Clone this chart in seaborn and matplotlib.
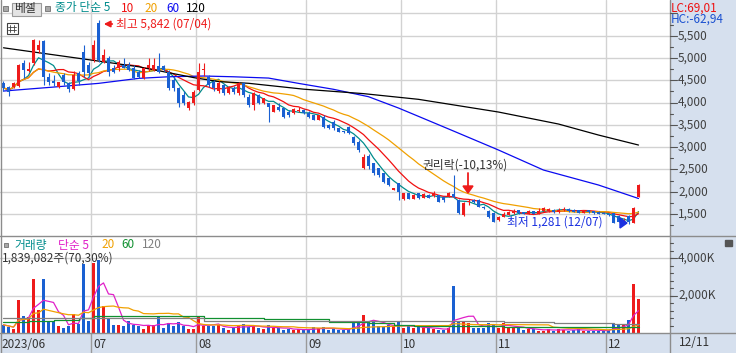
import numpy as np
import pandas as pd
import matplotlib
matplotlib.use("Agg")
import matplotlib.pyplot as plt
import seaborn as sns
from matplotlib.patches import Rectangle, Polygon

sns.set_style("white")
plt.rcParams['font.family'] = ['Noto Sans CJK KR', 'DejaVu Sans']

# daily candles 2023-06-07 .. 2023-12-11
opens = [4440, 4350, 4350, 4380, 4880, 4700, 4885, 5180, 5380, 4570,
         4480, 4350, 4620, 4430, 4300, 4660, 5140, 4840, 4950, 5780,
         4920, 5010, 4770, 4770, 4840, 4840, 4770, 4690, 4550, 4780,
         4740, 4810, 4810, 4690, 4500, 4320, 4170, 3870, 3985, 4280,
         4730, 4580, 4450, 4250, 4400, 4210, 4320, 4210, 4430, 4130,
         3940, 4170, 3985, 3985, 3790, 3910, 3870, 3790, 3765, 3800,
         3830, 3760, 3720, 3610, 3685, 3495, 3570, 3420, 3360, 3460,
         3235, 3125, 2525, 2800, 2635, 2525, 2410, 2300, 2040, 2190,
         1830, 1965, 1840, 1960, 1860, 1930, 1900, 1925, 1890, 1900,
         1950, 1815, 1480, 1760, 1820, 1815, 1660, 1575, 1530, 1365,
         1440, 1480, 1520, 1580, 1540, 1500, 1560, 1510, 1560, 1570,
         1600, 1540, 1580, 1620, 1600, 1580, 1530, 1580, 1560, 1540,
         1530, 1510, 1515, 1460, 1300, 1450, 1300, 1890]
closes = [4330, 4240, 4445, 4840, 4730, 4760, 5400, 5290, 4570, 4460,
          4430, 4460, 4460, 4300, 4620, 4480, 4690, 4660, 5290, 4950,
          5060, 4690, 4690, 4910, 4780, 4740, 4550, 4580, 4770, 4840,
          4840, 4690, 4740, 4320, 4330, 3985, 3985, 4010, 4245, 4690,
          4760, 4400, 4320, 4440, 4210, 4355, 4245, 4430, 4170, 3940,
          4205, 3985, 4095, 3910, 3940, 3830, 3680, 3720, 3850, 3830,
          3760, 3685, 3610, 3720, 3460, 3420, 3420, 3345, 3340, 3310,
          3085, 2935, 2785, 2575, 2410, 2375, 2225, 2150, 2075, 2000,
          1965, 1840, 1930, 1850, 1950, 1860, 1975, 1780, 1820, 1970,
          1880, 1515, 1740, 1790, 1760, 1665, 1640, 1440, 1330, 1440,
          1490, 1540, 1560, 1520, 1500, 1560, 1510, 1570, 1630, 1610,
          1540, 1600, 1620, 1560, 1550, 1530, 1580, 1540, 1520, 1510,
          1500, 1470, 1300, 1330, 1340, 1310, 1640, 2150]
highs = [4480, 4380, 4470, 4860, 4950, 4900, 5420, 5400, 5400, 4660,
         4620, 4470, 4660, 4450, 4700, 4700, 5290, 4900, 5400, 5842,
         5190, 5040, 4840, 4950, 4990, 4900, 4840, 4720, 4800, 4990,
         4990, 5110, 4840, 4730, 4580, 4350, 4250, 4030, 4280, 4880,
         4880, 4620, 4500, 4480, 4420, 4380, 4360, 4460, 4460, 4200,
         4240, 4200, 4100, 4000, 3950, 3980, 3880, 3830, 3880, 3900,
         3850, 3800, 3730, 3730, 3720, 3510, 3600, 3430, 3370, 3480,
         3260, 3150, 2845, 2850, 2650, 2540, 2430, 2310, 2090, 2200,
         1980, 1975, 1950, 1980, 1960, 1940, 2010, 1930, 1900, 1990,
         2370, 1830, 1760, 1830, 1840, 1830, 1680, 1580, 1540, 1450,
         1540, 1560, 1620, 1600, 1550, 1580, 1570, 1640, 1660, 1640,
         1620, 1630, 1650, 1630, 1610, 1590, 1600, 1590, 1570, 1560,
         1540, 1530, 1520, 1470, 1410, 1470, 1660, 2180]
lows = [4260, 4150, 4330, 4350, 4550, 4680, 4850, 5120, 4390, 4390,
        4380, 4330, 4400, 4235, 4280, 4400, 4580, 4580, 4920, 4900,
        4880, 4600, 4660, 4700, 4770, 4700, 4520, 4540, 4530, 4700,
        4700, 4660, 4700, 4280, 4250, 3905, 3950, 3830, 3950, 4250,
        4600, 4350, 4250, 4220, 4180, 4190, 4200, 4180, 4130, 3900,
        3830, 3960, 3970, 3570, 3780, 3800, 3660, 3680, 3750, 3790,
        3740, 3650, 3600, 3600, 3430, 3400, 3380, 3330, 3320, 3300,
        3040, 2900, 2500, 2500, 2380, 2340, 2200, 2120, 2030, 1815,
        1815, 1830, 1830, 1830, 1850, 1850, 1890, 1770, 1780, 1890,
        1860, 1500, 1460, 1700, 1740, 1650, 1620, 1420, 1320, 1350,
        1430, 1470, 1510, 1500, 1490, 1490, 1500, 1500, 1550, 1540,
        1530, 1530, 1560, 1540, 1540, 1520, 1520, 1520, 1510, 1500,
        1490, 1460, 1290, 1320, 1290, 1281, 1290, 1880]
# volume in thousand shares
volumes = [438, 312, 204, 1760, 925, 853, 2870, 1249, 2870, 619,
           565, 384, 294, 348, 1033, 492, 3700, 619, 3770, 3880,
           1429, 745, 438, 438, 384, 619, 438, 348, 222, 438,
           438, 835, 294, 528, 348, 565, 348, 222, 222, 889,
           384, 348, 348, 438, 258, 168, 258, 438, 492, 312,
           348, 258, 204, 438, 258, 258, 168, 204, 168, 204,
           168, 168, 312, 258, 312, 168, 204, 168, 168, 204,
           619, 619, 979, 619, 565, 348, 312, 438, 348, 565,
           258, 348, 258, 348, 258, 258, 204, 168, 168, 258,
           2520, 619, 565, 511, 276, 276, 260, 511, 420, 276,
           528, 312, 312, 258, 168, 204, 204, 132, 132, 204,
           132, 204, 168, 132, 168, 204, 132, 132, 132, 132,
           132, 150, 528, 420, 420, 673, 2620, 1839]

# long moving averages (need history before June)
ma60_days = [0, 10, 19, 27, 33, 40, 46, 53, 59, 66, 73, 79, 83, 90, 99, 108, 119, 127]
ma60_vals = [4258, 4347, 4430, 4542, 4578, 4595, 4578, 4549, 4430, 4297, 4131, 3877, 3690, 3361, 2935, 2486, 2150, 1848]
ma120_days = [0, 19, 27, 38, 43, 49, 60, 72, 83, 99, 111, 119, 127]
ma120_vals = [5228, 4930, 4803, 4560, 4470, 4432, 4300, 4200, 4072, 3787, 3518, 3271, 3047]
vma60_days = [0, 5, 10, 15, 18, 39, 40, 51, 52, 64, 65, 72, 73, 77, 78, 81, 82, 99, 100, 127]
vma60_vals = [605, 640, 700, 820, 910, 910, 786, 786, 733, 733, 572, 572, 524, 524, 428, 428, 374, 374, 337, 337]
vma120_days = [0, 39, 40, 99, 100, 109, 110, 121, 122, 127]
vma120_vals = [786, 786, 658, 640, 572, 572, 524, 524, 465, 465]

month_labels = ["2023/06", "07", "08", "09", "10", "11", "12"]
month_start = [0, 18, 39, 61, 80, 99, 121]

RED, BLUE = "#EE1B1B", "#1A60D2"
PANEL = "#D6E0EE"
GRID = "#D2D2D2"
W, H = 736, 353

df = pd.DataFrame({"day": np.arange(len(closes)), "open": opens, "close": closes,
                   "high": highs, "low": lows, "vol": volumes})
df["ma5"] = df["close"].rolling(5, min_periods=1).mean()
df["ma10"] = df["close"].rolling(10, min_periods=1).mean()
df["ma20"] = df["close"].rolling(20, min_periods=1).mean()
df["vma5"] = df["vol"].rolling(5, min_periods=1).mean()
df["vma20"] = df["vol"].rolling(20, min_periods=1).mean()
cols = [RED if c >= o else BLUE for o, c in zip(df["open"], df["close"])]

fig = plt.figure(figsize=(W / 100, H / 100), dpi=100)
fig.patch.set_facecolor("white")


def rect(x0, y0, x1, y1):
    return [x0 / W, 1 - y1 / H, (x1 - x0) / W, (y1 - y0) / H]


bg = fig.add_axes([0, 0, 1, 1], zorder=-5)
bg.set_xlim(0, W); bg.set_ylim(H, 0); bg.axis("off")
bg.add_patch(Rectangle((670, 0), 66, 353, color=PANEL))

P_TOP, P_BOT = 6300, 1029
V_TOP = 5190
XL = (-0.7, 133.3)

ax_p = fig.add_axes(rect(0, 0, 670, 235))
ax_v = fig.add_axes(rect(0, 236, 670, 333))
ax_d = fig.add_axes(rect(0, 333, 670, 353))
for a in (ax_p, ax_v, ax_d):
    a.set_xlim(*XL)
    a.set_xticks([]); a.set_yticks([])
    for s in a.spines.values():
        s.set_visible(False)
ax_p.set_ylim(P_BOT, P_TOP)
ax_v.set_ylim(0, V_TOP)
ax_d.set_ylim(0, 1)
ax_d.set_facecolor(PANEL)

# grid
for p in range(1500, 6001, 500):
    ax_p.axhline(p, color=GRID, lw=1, zorder=0)
for v in (2000, 4000):
    ax_v.axhline(v, color=GRID, lw=1, zorder=0)
for m in month_start[1:]:
    for a in (ax_p, ax_v):
        a.axvline(m - 0.5, color=GRID, lw=1, zorder=0)
    ax_d.axvline(m - 0.5, color="#9A9A9A", lw=1)
for lab, m in zip(month_labels, month_start):
    xx = -0.4 if m == 0 else m - 0.1
    ax_d.text(xx, 0.45, lab, fontsize=8.5, color="#333333", va="center", ha="left")

# candles
x = df["day"].values
ax_p.vlines(x, df["low"], df["high"], colors=cols, lw=0.8, zorder=3)
bottoms = np.minimum(df["open"], df["close"])
heights = np.maximum(np.abs(df["close"] - df["open"]), 18)
ax_p.bar(x, heights, bottom=bottoms, width=0.62, color=cols, linewidth=0, zorder=4)

# price moving averages
sns.lineplot(x=df["day"], y=df["ma5"], color="#008C8C", lw=0.9, ax=ax_p, zorder=2)
sns.lineplot(x=df["day"], y=df["ma10"], color="#F01010", lw=0.9, ax=ax_p, zorder=2)
sns.lineplot(x=df["day"], y=df["ma20"], color="#F0A000", lw=0.9, ax=ax_p, zorder=2)
sns.lineplot(x=ma60_days, y=ma60_vals, color="#0A0AF0", lw=0.9, ax=ax_p, zorder=2)
sns.lineplot(x=ma120_days, y=ma120_vals, color="black", lw=0.9, ax=ax_p, zorder=2)

# volume
ax_v.bar(x, df["vol"], width=0.62, color=cols, linewidth=0, zorder=3)
sns.lineplot(x=df["day"], y=df["vma5"], color="#E020C8", lw=0.9, ax=ax_v, zorder=4)
sns.lineplot(x=df["day"], y=df["vma20"], color="#F0A000", lw=0.9, ax=ax_v, zorder=4)
sns.lineplot(x=vma60_days, y=vma60_vals, color="#109030", lw=0.9, ax=ax_v, zorder=4,
             drawstyle="steps-post")
sns.lineplot(x=vma120_days, y=vma120_vals, color="#808080", lw=0.9, ax=ax_v, zorder=4,
             drawstyle="steps-post")
for a in (ax_p, ax_v, ax_d):
    a.set_xlabel(""); a.set_ylabel("")
    a.set_xlim(*XL)

# overlay in pixel coordinates
ov = fig.add_axes([0, 0, 1, 1], zorder=20)
ov.set_xlim(0, W); ov.set_ylim(H, 0); ov.axis("off")


def T(px, py, s, c, fs=8.5, **kw):
    ov.text(px, py, s, color=c, fontsize=fs, va="center", ha="left", **kw)


def ppy(p):
    return (P_TOP - p) / (P_TOP - P_BOT) * 235


def vpy(v):
    return 333 - v / V_TOP * 97


# frame lines
for yy in (235.5, 333):
    ov.plot([0, W], [yy, yy], color="#8C8C8C", lw=1)
ov.plot([670, 670], [0, H], color="#8C8C8C", lw=1)
ov.plot([0.5, 0.5], [0, H], color="#8C8C8C", lw=1)

# right axis
for p in range(1250, 6001, 250):
    y = ppy(p)
    major = p % 500 == 0
    ov.plot([670, 677 if major else 673], [y, y], color="#555555", lw=0.8)
    if major and p <= 5500:
        T(678, y, f"{p:,}", "#404040")
for v in range(400, 5001, 400):
    ov.plot([670, 673], [vpy(v), vpy(v)], color="#555555", lw=0.8)
for v in (2000, 4000):
    ov.plot([670, 677], [vpy(v), vpy(v)], color="#555555", lw=0.8)
    T(678, vpy(v), f"{v:,}K", "#404040")
T(679, 343, "12/11", "#333333")
T(671, 8, "LC:69,01", "#EE1111")
T(671, 19.5, "HC:-62,94", "#1A50D0")
ov.add_patch(Rectangle((725, 240), 7, 6, color="#555555"))

# top legend
ov.add_patch(Rectangle((3, 6), 5, 5, facecolor="#A8A8A8", edgecolor="#707070", lw=0.6))
ov.add_patch(Rectangle((11.5, 2.5), 29, 13, facecolor="#E4E4E4", edgecolor="#9A9A9A", lw=0.8))
T(14, 8.5, "베셀", "#333333")
ov.add_patch(Rectangle((45, 6), 5, 5, facecolor="#A8A8A8", edgecolor="#707070", lw=0.6))
T(55, 8, "종가 단순 5", "#008C8C")
T(121, 8, "10", "#F01010")
T(144, 8, "20", "#F0A000")
T(166, 8, "60", "#0A0AF0")
T(186, 8, "120", "black")
ov.add_patch(Rectangle((6.5, 22.5), 11, 11, facecolor="white", edgecolor="#404040", lw=0.8))
for gx in (10.2, 13.8):
    ov.plot([gx, gx], [25, 32], color="#404040", lw=0.6)
for gy in (27, 30):
    ov.plot([8, 16], [gy, gy], color="#404040", lw=0.6)

# volume legend
ov.add_patch(Rectangle((3.5, 242.5), 4.5, 4.5, facecolor="#A8A8A8", edgecolor="#707070", lw=0.6))
T(14, 245, "거래량", "#008C8C")
T(58, 245, "단순 5", "#E020C8")
T(101, 245, "20", "#F0A000")
T(121, 245, "60", "#109030")
T(142, 245, "120", "#808080")
T(2, 258, "1,839,082주(70,30%)", "#333333")

# annotations
ov.annotate("", xy=(101, 24), xytext=(115, 24),
            arrowprops=dict(arrowstyle="-|>", color=RED, lw=1.3, mutation_scale=9))
T(116, 24, "최고 5,842 (07/04)", RED)
T(422, 165, "권리락(-10,13%)", "#333333")
ov.plot([468, 468], [173, 187], color=RED, lw=1.3)
ov.add_patch(Polygon([[463, 186], [473, 186], [468, 193]], color=RED))
T(507, 222, "최저 1,281 (12/07)", "#1A30E0")
ov.add_patch(Polygon([[620, 218], [620, 228], [627, 223]], color="#1A30E0"))

fig.savefig("out.png", dpi=100)
